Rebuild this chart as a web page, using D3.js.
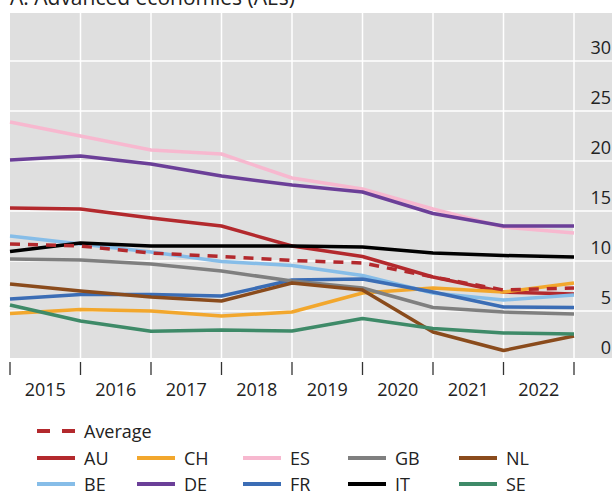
<!DOCTYPE html>
<html>
<head>
<meta charset="utf-8">
<script src="https://cdn.jsdelivr.net/npm/d3@7"></script>
<style>
  body { margin: 0; background: #fff; }
  text { font-family: "Open Sans", "Noto Sans", sans-serif; fill: #222; }
</style>
</head>
<body>
<svg id="chart" width="612" height="494"></svg>
<script>
// Time points (start of each year) and axis labels
const points = [2015, 2016, 2017, 2018, 2019, 2020, 2021, 2022, 2023];
const yearLabels = [2015, 2016, 2017, 2018, 2019, 2020, 2021, 2022];
const yTicks = [0, 5, 10, 15, 20, 25, 30];

// Series values
const avgValues = [11.7, 11.5, 10.8, 10.45, 10.05, 9.8, 8.4, 7.1, 7.3];
const auValues = [15.3, 15.2, 14.3, 13.5, 11.5, 10.45, 8.4, 6.9, 6.7];
const beValues = [12.5, 11.7, 10.9, 9.95, 9.55, 8.55, 6.8, 6.1, 6.6];
const chValues = [4.75, 5.15, 5.0, 4.5, 4.9, 6.8, 7.3, 6.9, 7.8];
const deValues = [20.1, 20.5, 19.7, 18.5, 17.6, 16.9, 14.75, 13.5, 13.5];
const esValues = [23.9, 22.5, 21.1, 20.7, 18.3, 17.2, 15.2, 13.4, 12.8];
const frValues = [6.2, 6.65, 6.65, 6.5, 8.1, 8.2, 6.9, 5.4, 5.35];
const gbValues = [10.2, 10.1, 9.7, 9.0, 8.0, 7.3, 5.35, 4.9, 4.7];
const itValues = [10.95, 11.8, 11.5, 11.5, 11.5, 11.4, 10.8, 10.55, 10.4];
const nlValues = [7.7, 7.0, 6.4, 6.0, 7.8, 7.1, 2.9, 1.05, 2.5];
const seValues = [5.6, 4.0, 2.97, 3.1, 3.0, 4.25, 3.25, 2.8, 2.7];

const series = [
    { name: 'ES', values: esValues, color: '#f7b8cf' },
    { name: 'AU', values: auValues, color: '#b3292d' },
    { name: 'BE', values: beValues, color: '#86bde8' },
    { name: 'CH', values: chValues, color: '#f2a72d' },
    { name: 'DE', values: deValues, color: '#6b3f98' },
    { name: 'FR', values: frValues, color: '#3b6db5' },
    { name: 'GB', values: gbValues, color: '#7f7f7f' },
    { name: 'IT', values: itValues, color: '#000000' },
    { name: 'NL', values: nlValues, color: '#8a4b1c' },
    { name: 'SE', values: seValues, color: '#3e8a68' },
    { name: 'Average', values: avgValues, color: '#b3292d', dash: '10,8' }
];

// Legend grid order
const legendRows = [
    ['Average'],
    ['AU', 'CH', 'ES', 'GB', 'NL'],
    ['BE', 'DE', 'FR', 'IT', 'SE']
];

const svg = d3.select('#chart');
const plot = { left: 10, right: 574, top: 13, bottom: 358 };

const x = d3.scaleLinear().domain([2015, 2023]).range([plot.left, plot.right]);
const y = d3.scaleLinear().domain([0, 35]).range([361, 11]);

// Grey panel (runs under the right-hand labels too)
svg.append('rect')
    .attr('x', plot.left).attr('y', plot.top)
    .attr('width', 612 - plot.left).attr('height', plot.bottom - plot.top)
    .attr('fill', '#dfdfdf');

// Grid lines
svg.append('g').selectAll('line')
    .data(yTicks.filter(d => d > 0))
    .join('line')
    .attr('x1', plot.left).attr('x2', 612)
    .attr('y1', d => y(d)).attr('y2', d => y(d))
    .attr('stroke', '#fff').attr('stroke-width', 1.5);

svg.append('g').selectAll('line')
    .data(points.slice(1))
    .join('line')
    .attr('x1', d => x(d)).attr('x2', d => x(d))
    .attr('y1', plot.top).attr('y2', plot.bottom)
    .attr('stroke', '#fff').attr('stroke-width', 1.5);

// Right axis labels, sitting just above their grid line
svg.append('g').selectAll('text')
    .data(yTicks)
    .join('text')
    .attr('x', 611)
    .attr('y', d => y(d) - 7)
    .attr('text-anchor', 'end')
    .attr('font-size', 18)
    .text(d => d);

// Bottom axis: tick marks at year boundaries, labels mid-year
svg.append('g').selectAll('line')
    .data(points)
    .join('line')
    .attr('x1', d => x(d)).attr('x2', d => x(d))
    .attr('y1', 362).attr('y2', 375)
    .attr('stroke', '#333').attr('stroke-width', 1.3);

svg.append('g').selectAll('text')
    .data(yearLabels)
    .join('text')
    .attr('x', d => x(d + 0.5))
    .attr('y', 396)
    .attr('text-anchor', 'middle')
    .attr('font-size', 18)
    .text(d => d);

// Lines
const line = d3.line()
    .x((d, i) => x(points[i]))
    .y(d => y(d));

svg.append('g').selectAll('path')
    .data(series)
    .join('path')
    .attr('d', d => line(d.values))
    .attr('fill', 'none')
    .attr('stroke', d => d.color)
    .attr('stroke-width', 3.5)
    .attr('stroke-linejoin', 'round')
    .attr('stroke-dasharray', d => d.dash || null);

// Title (cut off at the top in the original)
svg.append('text')
    .attr('x', 10).attr('y', 5)
    .attr('font-size', 21)
    .text('A. Advanced economies (AEs)');

// Legend
const colX = [37, 137, 243, 348, 459];
const rowY = [431, 458, 484];
const byName = Object.fromEntries(series.map(s => [s.name, s]));

legendRows.forEach((row, r) => {
    row.forEach((name, c) => {
        const s = byName[name];
        const g = svg.append('g').attr('transform', `translate(${colX[c]},${rowY[r]})`);
        g.append('line')
            .attr('x1', 0).attr('x2', 38)
            .attr('y1', 0).attr('y2', 0)
            .attr('stroke', s.color)
            .attr('stroke-width', 4)
            .attr('stroke-dasharray', s.dash ? '13,12' : null);
        g.append('text')
            .attr('x', 47).attr('y', 6.5)
            .attr('font-size', 18)
            .text(name);
    });
});
</script>
</body>
</html>
